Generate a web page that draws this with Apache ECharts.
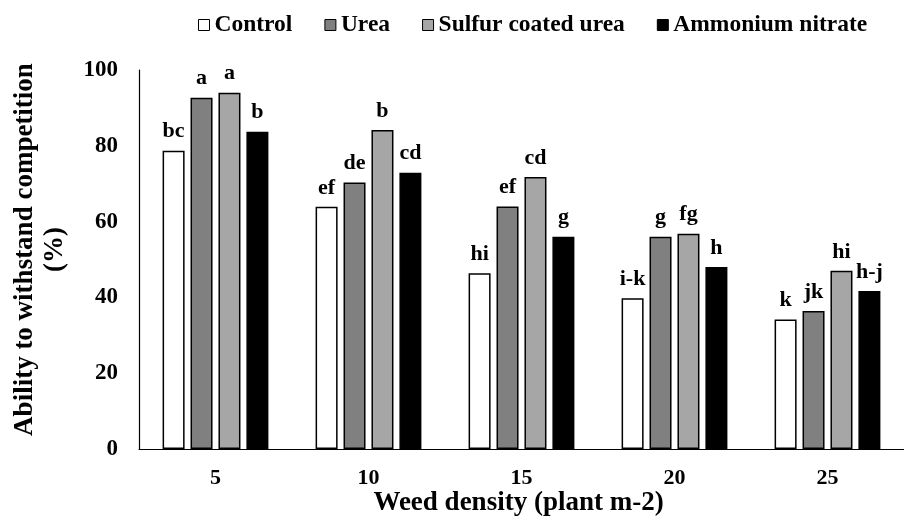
<!DOCTYPE html>
<html>
<head>
<meta charset="utf-8">
<script src="https://cdn.jsdelivr.net/npm/echarts@6/dist/echarts.min.js"></script>
<style>html,body{margin:0;padding:0;background:#fff}#c{width:904px;height:526px}</style>
</head>
<body>
<div id="c"></div>
<script>
var categories = ['5', '10', '15', '20', '25'];
var seriesNames = ['Control', 'Urea', 'Sulfur coated urea', 'Ammonium nitrate'];
var control = [78.7, 63.9, 46.4, 39.8, 34.2];
var urea = [92.7, 70.3, 64.0, 56.0, 36.4];
var sulfurCoatedUrea = [94.0, 84.2, 71.8, 56.8, 47.0];
var ammoniumNitrate = [83.7, 72.9, 56.0, 48.0, 41.7];
var controlLetters = ['bc', 'ef', 'hi', 'i-k', 'k'];
var ureaLetters = ['a', 'de', 'ef', 'g', 'jk'];
var scuLetters = ['a', 'b', 'cd', 'fg', 'hi'];
var anLetters = ['b', 'cd', 'g', 'h', 'h-j'];
var yTicks = [0, 20, 40, 60, 80, 100];

var font = '"Liberation Serif", "Times New Roman", serif';
var fills = ['#ffffff', '#808080', '#a6a6a6', '#000000'];
var values = [control, urea, sulfurCoatedUrea, ammoniumNitrate];
var letters = [controlLetters, ureaLetters, scuLetters, anLetters];

var chart = echarts.init(document.getElementById('c'), null, {renderer: 'canvas'});
var series = seriesNames.map(function (n, i) {
  return {
    name: n,
    type: 'bar',
    barWidth: 22,
    barGap: '27%',
    data: values[i],
    itemStyle: {color: fills[i], borderColor: '#000', borderWidth: 1.5},
    label: {
      show: true,
      position: 'top',
      distance: 8,
      fontFamily: font,
      fontWeight: 'bold',
      fontSize: 22,
      color: '#000',
      formatter: function (p) { return letters[i][p.dataIndex]; }
    }
  };
});

chart.setOption({
  animation: false,
  backgroundColor: '#fff',
  legend: {
    top: 8,
    left: 193,
    itemWidth: 11,
    itemHeight: 11,
    itemGap: 32,
    icon: 'rect',
    textStyle: {fontFamily: font, fontWeight: 'bold', fontSize: 23.5, color: '#000', padding: [0, 0, 0, 0]},
    itemStyle: {borderColor: '#000', borderWidth: 1},
    data: seriesNames
  },
  grid: {left: 139, right: -6, top: 70, bottom: 77, containLabel: false},
  xAxis: {
    type: 'category',
    data: categories,
    name: 'Weed density (plant m-2)',
    nameLocation: 'middle',
    nameGap: 41,
    nameMoveOverlap: false,
    nameTextStyle: {fontFamily: font, fontWeight: 'bold', fontSize: 27, color: '#000', padding: [0, 6, 0, 0]},
    axisLine: {lineStyle: {color: '#000', width: 1.2}},
    axisTick: {show: false},
    axisLabel: {fontFamily: font, fontWeight: 'bold', fontSize: 22, color: '#000', margin: 18}
  },
  yAxis: {
    type: 'value',
    min: yTicks[0],
    max: yTicks[yTicks.length - 1],
    interval: 20,
    name: 'Ability to withstand competition\n(%)',
    nameLocation: 'middle',
    nameGap: 69,
    nameRotate: 90,
    nameMoveOverlap: false,
    nameTextStyle: {fontFamily: font, fontWeight: 'bold', fontSize: 27, color: '#000', lineHeight: 30, padding: [0, 0, 0, 20]},
    axisLine: {show: true, lineStyle: {color: '#000', width: 1.2}},
    axisTick: {show: false},
    splitLine: {show: false},
    axisLabel: {fontFamily: font, fontWeight: 'bold', fontSize: 23, color: '#000', margin: 21}
  },
  series: series
});
</script>
</body>
</html>
